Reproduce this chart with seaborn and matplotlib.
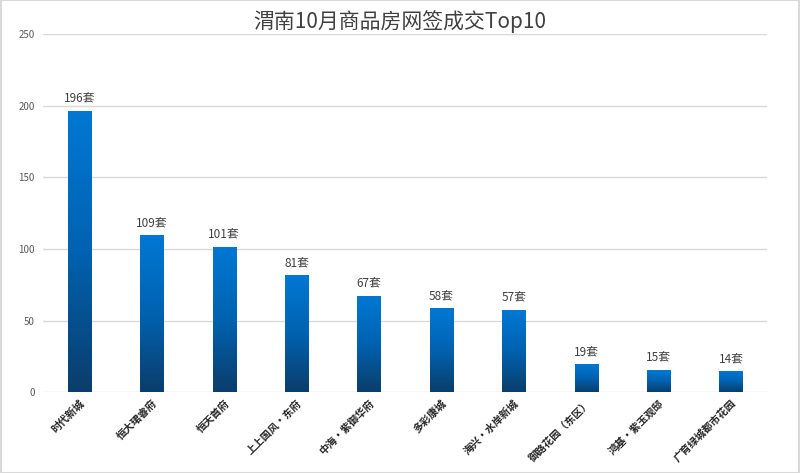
'''渭南10月商品房网签成交Top10 bar chart'''
import numpy as np
import pandas as pd
import seaborn as sns
import matplotlib
matplotlib.use('Agg')
import matplotlib.pyplot as plt
from matplotlib.colors import LinearSegmentedColormap
from matplotlib.patches import Rectangle

#region data
projects = ['时代新城', '恒大珺睿府', '恒天首府', '上上国风·东府', '中海·紫御华府',
            '多彩康城', '海兴·水岸新城', '御路花园（东区）', '鸿基·紫玉观邸', '广育绿城都市花园']
sales = [196, 109, 101, 81, 67, 58, 57, 19, 15, 14]
yticks = [0, 50, 100, 150, 200, 250]
title = '渭南10月商品房网签成交Top10'
#endregion

sns.set_theme(style='white')
plt.rcParams['font.family'] = ['Noto Sans CJK SC', 'DejaVu Sans']

df = pd.DataFrame({'project': projects, 'sales': sales})

fig = plt.figure(figsize=(8, 4.73), dpi=100)
fig.patch.set_facecolor('white')
ax = fig.add_axes([0.054, 0.171, 0.905, 0.757])

sns.barplot(data=df, x='project', y='sales', ax=ax, width=0.32,
            color='#0070c8', saturation=1)

ax.set_ylim(0, 250)
ax.set_xlim(-0.5, len(projects) - 0.5)
ax.set_yticks(yticks)
ax.set_yticklabels([str(t) for t in yticks], fontsize=7, color='#595959')
ax.yaxis.grid(True, color='#d9d9d9', linewidth=1)
ax.set_axisbelow(True)
for s in ax.spines.values():
    s.set_visible(False)
ax.tick_params(axis='y', length=0, pad=6)
ax.tick_params(axis='x', length=0, pad=4)
ax.set_xlabel('')
ax.set_ylabel('')
ax.set_xticks(range(len(projects)))
ax.set_xticklabels(projects, rotation=45, ha='right', rotation_mode='anchor',
                   fontsize=7.5, color='#262626', fontweight='bold')

# gradient fill per bar: bright blue on top, navy at bottom
cmap = LinearSegmentedColormap.from_list('bar', ['#0b3d6b', '#0062b0', '#0078d4'])
grad = np.linspace(0, 1, 256).reshape(-1, 1)
for bar, v in zip(ax.patches, sales):
    x0, w = bar.get_x(), bar.get_width()
    bar.set_alpha(0)
    im = ax.imshow(grad, extent=[x0, x0 + w, 0, v], origin='lower',
                   cmap=cmap, aspect='auto', zorder=3)
    ax.text(x0 + w / 2, v + 4, f'{v}套', ha='center', va='bottom',
            fontsize=8.5, color='#404040')
ax.set_xlim(-0.5, len(projects) - 0.5)
ax.set_ylim(0, 250)

fig.text(0.5, 0.955, title, ha='center', va='center', fontsize=15,
         color='#404040', fontweight='light')

# thin outer frame
fig.patches.append(Rectangle((0.001, 0.001), 0.998, 0.998, transform=fig.transFigure,
                             fill=False, edgecolor='#d9d9d9', linewidth=1.5))

fig.savefig('out.png', dpi=100)
